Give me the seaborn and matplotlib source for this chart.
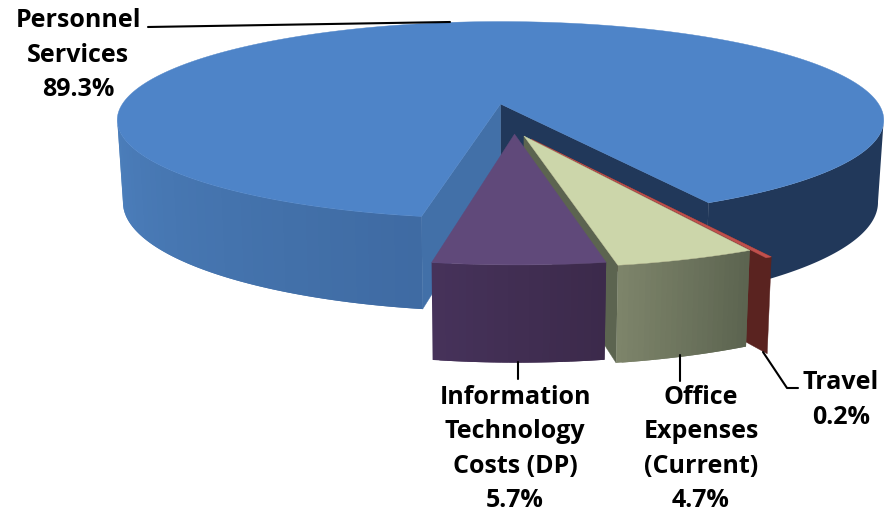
import numpy as np
import matplotlib
matplotlib.use('Agg')
import matplotlib.pyplot as plt
import seaborn as sns

# slices in drawing order, going round from the front of the pie
categories = ['Information\nTechnology\nCosts (DP)', 'Office\nExpenses\n(Current)', 'Travel', 'Personnel\nServices']
shares = [5.7, 4.7, 0.2, 89.3]
share_labels = ['5.7%', '4.7%', '0.2%', '89.3%']

# fake 3D camera, fitted against the picture
CX, CY = 500.5, 104
SX, SY = 370.7, 94
K = 0.16
H, H_POW = 80.5, 0.8
SHRINK = 0.985
START = -10.1

# explode offset (u, v) and radius of every slice
offsets = [(0.036, 0.304), (0.06, 0.323), (0.078, 0.351), (0, 0)]
radii = [1.04, 1.04, 1.065, 1.02]

sns.set_theme(style='white')
plt.rcParams['font.family'] = ['Open Sans', 'DejaVu Sans']

_z = [1]


def zo():
    _z[0] += 1
    return _z[0]


def project(u, v, low=False):
    d = 1 - K * np.asarray(v, dtype=float)
    if low:
        return CX + SHRINK * SX * np.asarray(u) / d, CY + SY * np.asarray(v) / d + H / d ** H_POW
    return CX + SX * np.asarray(u) / d, CY + SY * np.asarray(v) / d


def rim(i, a, b, low=False, n=120):
    t = np.radians(np.linspace(a, b, n))
    ou, ov = offsets[i]
    return project(ou + radii[i] * np.sin(t), ov + radii[i] * np.cos(t), low)


def apex(i, low=False):
    return project(offsets[i][0], offsets[i][1], low)


def top(ax, i, a, b, color):
    x, y = rim(i, a, b, n=400)
    ax0, ay0 = apex(i)
    ax.fill(np.r_[ax0, x], np.r_[ay0, y], color=color, lw=0.3, zorder=zo())


def wall(ax, i, a, b, colors):
    # row of strips, each one runs under the next so no seams show
    edges = np.linspace(a, b, len(colors) + 1)
    step = edges[1] - edges[0]
    z = zo()
    for c, e0, e1 in zip(colors, edges[:-1], edges[1:]):
        e1 = min(e1 + step, b)
        n = 8 + int(abs(e1 - e0))
        x0, y0 = rim(i, e0, e1, n=n)
        x1, y1 = rim(i, e0, e1, low=True, n=n)
        ax.fill(np.r_[x0, x1[::-1]], np.r_[y0, y1[::-1]], color=c, lw=0, zorder=z)


def cut(ax, i, angle, color):
    x0, y0 = rim(i, angle, angle, n=1)
    x1, y1 = rim(i, angle, angle, low=True, n=1)
    a0, b0 = apex(i)
    a1, b1 = apex(i, low=True)
    ax.fill([a0, x0[0], x1[0], a1], [b0, y0[0], y1[0], b1], color=color, lw=0.3, zorder=zo())


fig = plt.figure(figsize=(8.84, 5.15), dpi=100)
ax = fig.add_axes([0, 0, 1, 1])
ax.set_xlim(0, 884)
ax.set_ylim(515, 0)
ax.axis('off')

bounds = START + np.r_[0, np.cumsum(np.array(shares) / sum(shares) * 360)]

# Personnel first, everything else sits in front of it
a, b = bounds[3], bounds[4]
wall(ax, 3, a, 81, ['#21385a'])
wall(ax, 3, 279, b, sns.blend_palette(['#4c7fbc', '#3f6ba3'], 40))
cut(ax, 3, a, '#21385a')
cut(ax, 3, b, '#4270a8')
top(ax, 3, a, b, '#4e84c8')

# Travel
a, b = bounds[2], bounds[3]
cut(ax, 2, b, '#5a2320')
top(ax, 2, a, b, '#c0504d')

# Office expenses
a, b = bounds[1], bounds[2]
cut(ax, 1, a, '#5c6450')
wall(ax, 1, a, b, sns.blend_palette(['#7d846a', '#5c6450'], 25))
top(ax, 1, a, b, '#ccd6aa')

# Information technology
a, b = bounds[0], bounds[1]
wall(ax, 0, a, b, sns.blend_palette(['#46325a', '#3c2a4b'], 25))
top(ax, 0, a, b, '#60497a')

# leader lines
line = dict(color='black', lw=1.5, zorder=zo())
ax.plot([148, 450], [27, 22], **line)
ax.plot([518, 518], [362, 379], **line)
ax.plot([680, 680], [355, 381], **line)
ax.plot([763, 787, 798], [352, 388, 388], **line)

# labels
font = dict(ha='center', va='center', fontweight='bold', fontsize=18, color='black', linespacing=1.48, zorder=zo())
ax.text(78, 55, categories[3] + '\n' + share_labels[3], **font)
ax.text(515, 449, categories[0] + '\n' + share_labels[0], **font)
ax.text(701, 449, categories[1] + '\n' + share_labels[1], **font)
ax.text(841, 400, categories[2] + '\n' + share_labels[2], **font)

fig.savefig('out.png', dpi=100)
